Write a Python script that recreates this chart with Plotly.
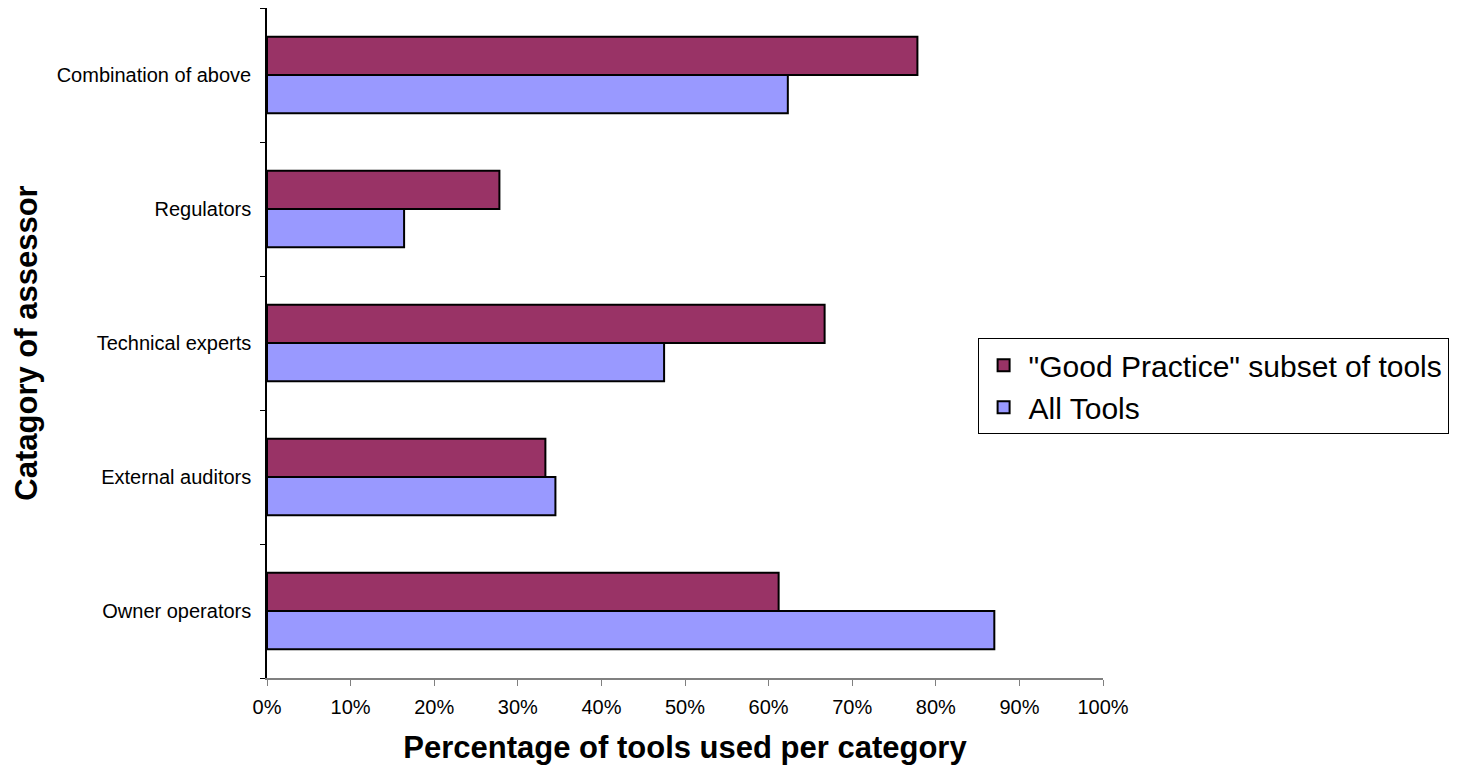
import plotly.graph_objects as go

categories = ["Owner operators", "External auditors", "Technical experts", "Regulators", "Combination of above"]
good_practice = [0.612, 0.333, 0.667, 0.278, 0.778]
all_tools = [0.870, 0.345, 0.475, 0.164, 0.623]
x_ticks = [0, 0.1, 0.2, 0.3, 0.4, 0.5, 0.6, 0.7, 0.8, 0.9, 1.0]

fig = go.Figure()
fig.add_trace(go.Bar(
    y=categories, x=all_tools, orientation="h", name="All Tools",
    marker=dict(color="#9999FF", line=dict(color="black", width=2)),
))
fig.add_trace(go.Bar(
    y=categories, x=good_practice, orientation="h", name='"Good Practice" subset of tools',
    marker=dict(color="#993366", line=dict(color="black", width=2)),
))

fig.update_layout(
    width=1460, height=770,
    margin=dict(l=267, r=357, t=8, b=92),
    paper_bgcolor="white", plot_bgcolor="white",
    barmode="group", bargap=0.43, bargroupgap=0,
    font=dict(family="Arial, Liberation Sans, sans-serif", color="black", size=20),
    legend=dict(
        x=0.85, y=0.507, xanchor="left", yanchor="top",
        traceorder="reversed",
        bordercolor="black", borderwidth=1, bgcolor="white",
        font=dict(size=30, family="Arial, Liberation Sans, sans-serif"),
        itemsizing="constant", tracegroupgap=0, itemwidth=40,
    ),
    showlegend=True,
)

fig.update_xaxes(
    range=[0, 1], tickvals=x_ticks, tickformat=".0%",
    showgrid=False, zeroline=False,
    showline=True, linecolor="#808080", linewidth=1.5,
    ticks="outside", ticklen=6, tickcolor="#808080",
    tickfont=dict(size=20), ticklabelstandoff=4,
    title=dict(text="<b>Percentage of tools used per category</b>", font=dict(size=31), standoff=20),
)
fig.update_yaxes(
    showgrid=False, zeroline=False,
    showline=True, linecolor="black", linewidth=1.5,
    ticks="outside", ticklen=5, tickcolor="black", tickson="boundaries",
    tickfont=dict(size=20), ticklabelstandoff=10,
    title=dict(text="<b>Catagory of assessor</b>", font=dict(size=31), standoff=10),
)

fig.write_html("out.html")
